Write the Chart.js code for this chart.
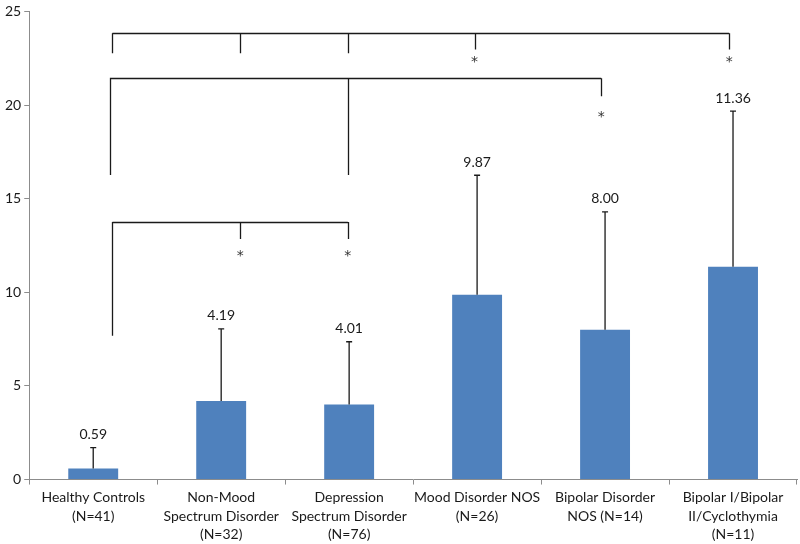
<!DOCTYPE html>
<html>
<head>
<meta charset="utf-8">
<script src="https://cdn.jsdelivr.net/npm/chart.js@4"></script>
<style>
  html, body { margin: 0; padding: 0; background: #fff; }
  #wrap { width: 800px; height: 544px; }
</style>
</head>
<body>
<div id="wrap"><canvas id="barChart"></canvas></div>
<script>
// data
const groupLabels = [
    ['Healthy Controls', '(N=41)'],
    ['Non-Mood', 'Spectrum Disorder', '(N=32)'],
    ['Depression', 'Spectrum Disorder', '(N=76)'],
    ['Mood Disorder NOS', '(N=26)'],
    ['Bipolar Disorder', 'NOS (N=14)'],
    ['Bipolar I/Bipolar', 'II/Cyclothymia', '(N=11)']
];
const meanValues = [0.59, 4.19, 4.01, 9.87, 8.00, 11.36];
const errorTops = [1.71, 8.05, 7.36, 16.25, 14.29, 19.67];
const valueText = ['0.59', '4.19', '4.01', '9.87', '8.00', '11.36'];
const yTicks = [0, 5, 10, 15, 20, 25];

// significance brackets: x in category index, y in data units
const bracketBars = [
    { y: 23.83, from: 0.15, to: 4.97 },
    { y: 21.43, from: 0.13, to: 3.97 },
    { y: 13.75, from: 0.15, to: 1.99 }
];
const bracketDrops = [
    [0.15, 23.83, 22.76], [1.15, 23.83, 22.76], [1.99, 23.83, 22.76],
    [2.98, 23.83, 22.97], [4.97, 23.83, 22.97],
    [0.13, 21.43, 16.26], [1.99, 21.43, 16.26], [3.97, 21.43, 20.47],
    [0.15, 13.75, 7.68], [1.15, 13.75, 12.85], [1.99, 13.75, 12.85]
];
const starMarks = [[2.98, 22.5], [4.97, 22.5], [3.97, 19.56], [1.15, 12.15], [1.99, 12.15]];

const fontFamily = 'Lato, "Open Sans", sans-serif';

const errorBarPlugin = {
    id: 'errorBars',
    afterDatasetsDraw(chart) {
        const ctx = chart.ctx;
        const x = chart.scales.x;
        const y = chart.scales.y;
        const meta = chart.getDatasetMeta(0);

        ctx.save();
        ctx.strokeStyle = '#1a1a1a';
        ctx.lineWidth = 1.3;
        meta.data.forEach((bar, i) => {
            const top = y.getPixelForValue(errorTops[i]);
            ctx.beginPath();
            ctx.moveTo(bar.x, bar.y);
            ctx.lineTo(bar.x, top);
            ctx.moveTo(bar.x - 3, top);
            ctx.lineTo(bar.x + 3, top);
            ctx.stroke();

            ctx.fillStyle = '#1a1a1a';
            ctx.font = '14px ' + fontFamily;
            ctx.textAlign = 'center';
            ctx.textBaseline = 'bottom';
            ctx.fillText(valueText[i], bar.x, top - 6);
        });

        // brackets
        ctx.beginPath();
        bracketBars.forEach(b => {
            const py = Math.round(y.getPixelForValue(b.y)) + 0.5;
            ctx.moveTo(x.getPixelForValue(b.from), py);
            ctx.lineTo(x.getPixelForValue(b.to), py);
        });
        bracketDrops.forEach(d => {
            const px = Math.round(x.getPixelForValue(d[0])) + 0.5;
            ctx.moveTo(px, y.getPixelForValue(d[1]));
            ctx.lineTo(px, y.getPixelForValue(d[2]));
        });
        ctx.stroke();

        // asterisks, y value is the visual centre of the glyph
        ctx.fillStyle = '#333';
        ctx.font = '14px "DejaVu Sans", sans-serif';
        ctx.textBaseline = 'alphabetic';
        starMarks.forEach(s => {
            ctx.fillText('*', x.getPixelForValue(s[0]), y.getPixelForValue(s[1]) + 8);
        });
        ctx.restore();
    }
};

new Chart(document.getElementById('barChart').getContext('2d'), {
    type: 'bar',
    data: {
        labels: groupLabels,
        datasets: [{
            data: meanValues,
            backgroundColor: '#4F81BD',
            borderWidth: 0,
            barPercentage: 0.39,
            categoryPercentage: 1.0
        }]
    },
    options: {
        responsive: true,
        maintainAspectRatio: false,
        animation: false,
        // tick padding is counted twice in the axis height, so let it hang a bit
        layout: { padding: { left: 2, right: 3, top: 2, bottom: -4 } },
        plugins: {
            legend: { display: false },
            tooltip: { enabled: false }
        },
        scales: {
            x: {
                grid: {
                    offset: true,
                    drawOnChartArea: false,
                    tickLength: 5,
                    color: '#8c8c8c'
                },
                border: { color: '#8c8c8c', width: 1 },
                ticks: {
                    maxRotation: 0,
                    autoSkip: false,
                    color: '#1a1a1a',
                    padding: 4,
                    font: { family: fontFamily, size: 14, lineHeight: 1.32 }
                }
            },
            y: {
                min: 0,
                max: 25,
                afterBuildTicks: axis => { axis.ticks = yTicks.map(v => ({ value: v })); },
                grid: {
                    drawOnChartArea: false,
                    tickLength: 5,
                    color: '#8c8c8c'
                },
                border: { color: '#8c8c8c', width: 1 },
                ticks: {
                    color: '#1a1a1a',
                    padding: 3,
                    font: { family: fontFamily, size: 14 }
                }
            }
        }
    },
    plugins: [errorBarPlugin]
});
</script>
</body>
</html>
